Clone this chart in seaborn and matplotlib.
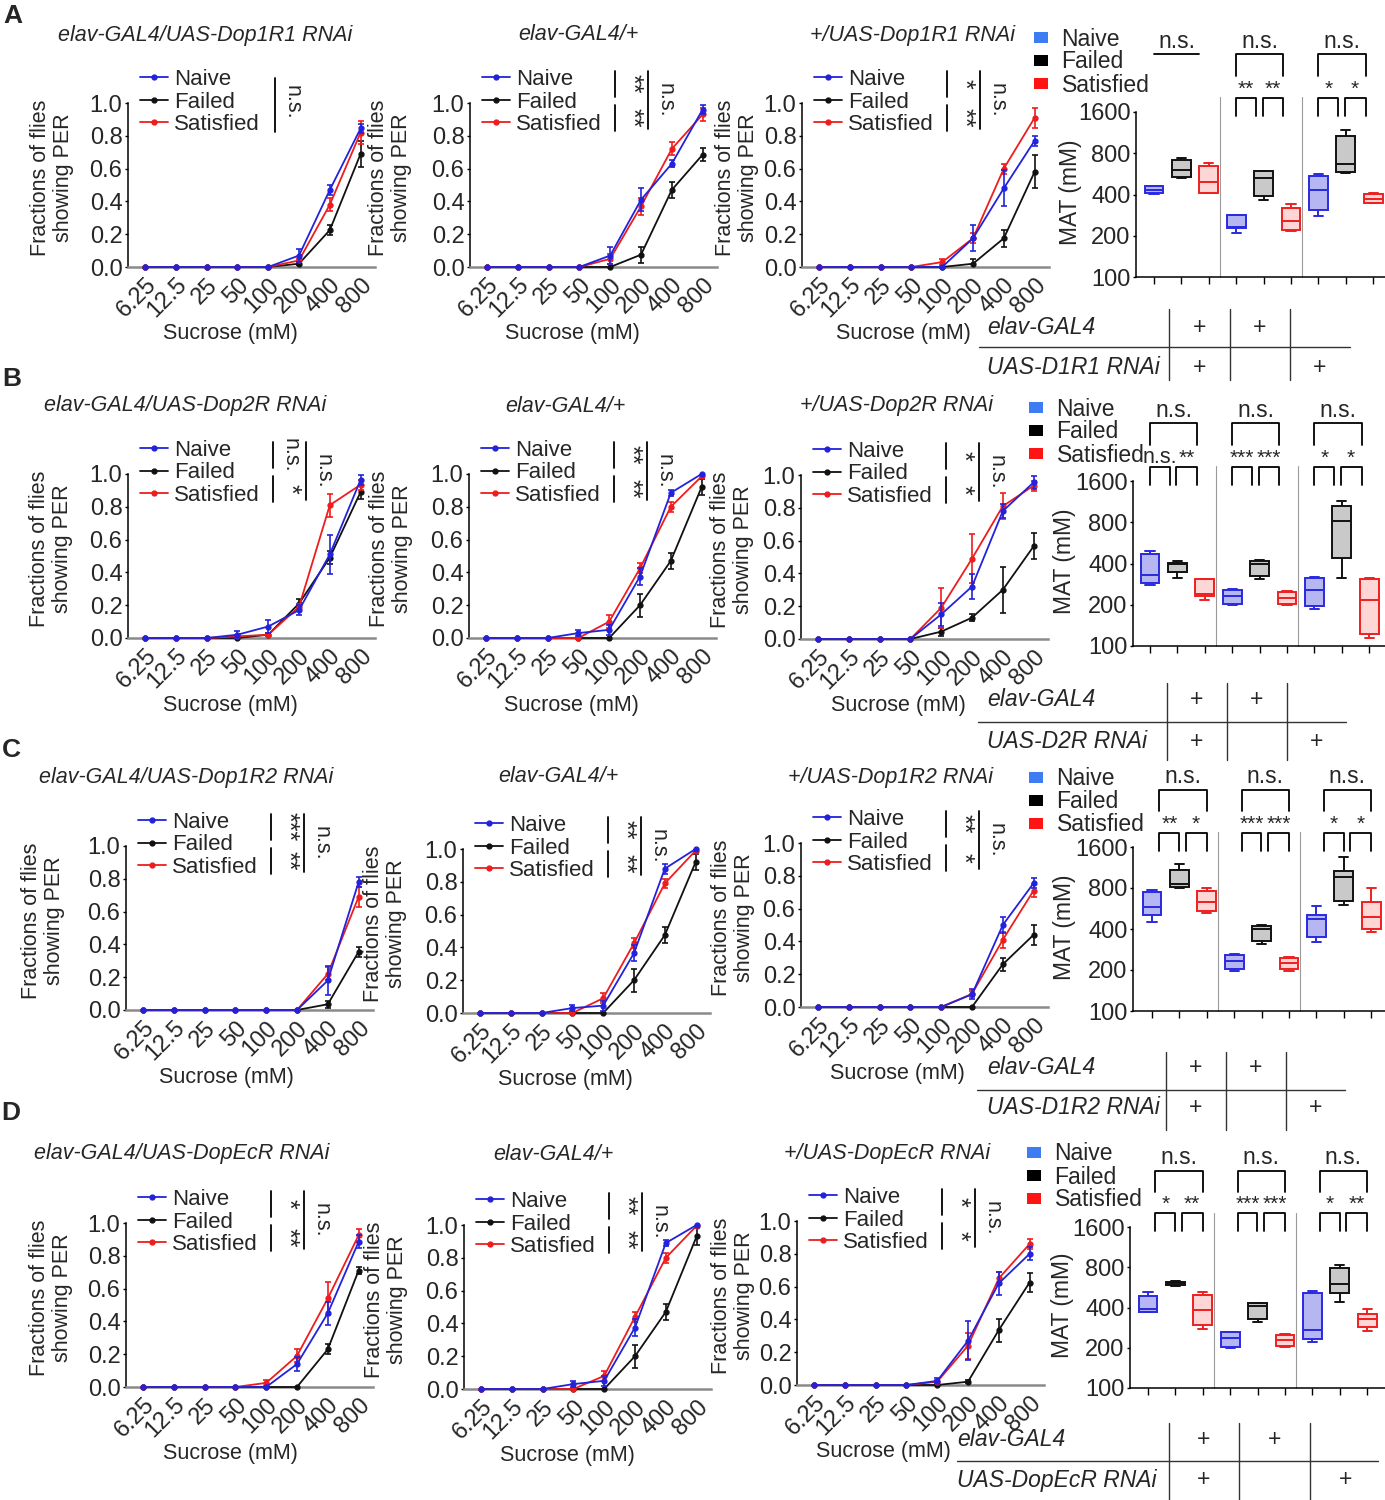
import numpy as np
import pandas as pd
import matplotlib
matplotlib.use('Agg')
import matplotlib.pyplot as plt
import seaborn as sns
from matplotlib.lines import Line2D
from matplotlib.patches import Patch
from matplotlib.ticker import NullLocator
from matplotlib.transforms import blended_transform_factory

# ---------------- data ----------------
conc = ['6.25', '12.5', '25', '50', '100', '200', '400', '800']
conditions = ['Naive', 'Failed', 'Satisfied']

# each row: [RNAi, elav-GAL4/+, +/UAS]
titles_A = ['elav-GAL4/UAS-Dop1R1 RNAi', 'elav-GAL4/+', '+/UAS-Dop1R1 RNAi']
titles_B = ['elav-GAL4/UAS-Dop2R RNAi', 'elav-GAL4/+', '+/UAS-Dop2R RNAi']
titles_C = ['elav-GAL4/UAS-Dop1R2 RNAi', 'elav-GAL4/+', '+/UAS-Dop1R2 RNAi']
titles_D = ['elav-GAL4/UAS-DopEcR RNAi', 'elav-GAL4/+', '+/UAS-DopEcR RNAi']
uas_labels = ['UAS-D1R1 RNAi', 'UAS-D2R RNAi', 'UAS-D1R2 RNAi', 'UAS-DopEcR RNAi']

naive_A = [[0, 0, 0, 0, 0, 0.07, 0.47, 0.845],
           [0, 0, 0, 0, 0.07, 0.41, 0.63, 0.96],
           [0, 0, 0, 0, 0, 0.175, 0.48, 0.77]]
naive_A_err = [[0, 0, 0, 0, 0, 0.04, 0.03, 0.03],
               [0, 0, 0, 0, 0.05, 0.07, 0.02, 0.03],
               [0, 0, 0, 0, 0, 0.08, 0.11, 0.03]]
failed_A = [[0, 0, 0, 0, 0, 0.02, 0.225, 0.69],
            [0, 0, 0, 0, 0, 0.075, 0.47, 0.685],
            [0, 0, 0, 0, 0, 0.02, 0.175, 0.58]]
failed_A_err = [[0, 0, 0, 0, 0, 0.01, 0.03, 0.08],
                [0, 0, 0, 0, 0, 0.05, 0.05, 0.04],
                [0, 0, 0, 0, 0, 0.03, 0.05, 0.1]]
sat_A = [[0, 0, 0, 0, 0, 0.04, 0.38, 0.82],
         [0, 0, 0, 0, 0.05, 0.37, 0.72, 0.93],
         [0, 0, 0, 0, 0.03, 0.175, 0.6, 0.91]]
sat_A_err = [[0, 0, 0, 0, 0, 0.01, 0.04, 0.07],
             [0, 0, 0, 0, 0.03, 0.05, 0.04, 0.04],
             [0, 0, 0, 0, 0.02, 0.03, 0.03, 0.06]]

naive_B = [[0, 0, 0, 0.02, 0.07, 0.17, 0.51, 0.965],
           [0, 0, 0, 0.03, 0.05, 0.375, 0.885, 1.0],
           [0, 0, 0, 0, 0.15, 0.32, 0.78, 0.955]]
naive_B_err = [[0, 0, 0, 0.02, 0.04, 0.03, 0.12, 0.03],
               [0, 0, 0, 0.02, 0.03, 0.05, 0.02, 0],
               [0, 0, 0, 0, 0.07, 0.075, 0.045, 0.04]]
failed_B = [[0, 0, 0, 0, 0.02, 0.21, 0.49, 0.89],
            [0, 0, 0, 0, 0, 0.2, 0.47, 0.92],
            [0, 0, 0, 0, 0.045, 0.13, 0.3, 0.565]]
failed_B_err = [[0, 0, 0, 0, 0.01, 0.03, 0.04, 0.04],
                [0, 0, 0, 0, 0, 0.07, 0.05, 0.05],
                [0, 0, 0, 0, 0.025, 0.02, 0.14, 0.08]]
sat_B = [[0, 0, 0, 0.01, 0.02, 0.19, 0.81, 0.935],
         [0, 0, 0, 0, 0.1, 0.425, 0.8, 0.985],
         [0, 0, 0, 0, 0.19, 0.49, 0.81, 0.935]]
sat_B_err = [[0, 0, 0, 0.01, 0.01, 0.02, 0.07, 0.03],
             [0, 0, 0, 0, 0.04, 0.03, 0.03, 0.01],
             [0, 0, 0, 0, 0.12, 0.15, 0.08, 0.03]]

naive_C = [[0, 0, 0, 0, 0, 0, 0.18, 0.78],
           [0, 0, 0, 0.03, 0.045, 0.365, 0.88, 1.0],
           [0, 0, 0, 0, 0, 0.077, 0.5, 0.755]]
naive_C_err = [[0, 0, 0, 0, 0, 0, 0.09, 0.03],
               [0, 0, 0, 0.02, 0.03, 0.05, 0.03, 0],
               [0, 0, 0, 0, 0, 0.03, 0.05, 0.03]]
failed_C = [[0, 0, 0, 0, 0, 0, 0.035, 0.355],
            [0, 0, 0, 0, 0, 0.2, 0.475, 0.92],
            [0, 0, 0, 0, 0, 0, 0.26, 0.44]]
failed_C_err = [[0, 0, 0, 0, 0, 0, 0.02, 0.03],
                [0, 0, 0, 0, 0, 0.07, 0.05, 0.05],
                [0, 0, 0, 0, 0, 0, 0.04, 0.06]]
sat_C = [[0, 0, 0, 0, 0, 0, 0.22, 0.69],
         [0, 0, 0, 0, 0.09, 0.425, 0.79, 0.99],
         [0, 0, 0, 0, 0, 0.08, 0.41, 0.71]]
sat_C_err = [[0, 0, 0, 0, 0, 0, 0.04, 0.06],
             [0, 0, 0, 0, 0.03, 0.03, 0.03, 0.01],
             [0, 0, 0, 0, 0, 0.02, 0.05, 0.04]]

naive_D = [[0, 0, 0, 0, 0, 0.14, 0.45, 0.885],
           [0, 0, 0, 0.03, 0.05, 0.375, 0.89, 1.0],
           [0, 0, 0, 0, 0.025, 0.27, 0.62, 0.8]]
naive_D_err = [[0, 0, 0, 0, 0, 0.04, 0.07, 0.04],
               [0, 0, 0, 0.02, 0.03, 0.05, 0.02, 0],
               [0, 0, 0, 0, 0.015, 0.12, 0.07, 0.04]]
failed_D = [[0, 0, 0, 0, 0, 0, 0.23, 0.71],
            [0, 0, 0, 0, 0, 0.2, 0.47, 0.93],
            [0, 0, 0, 0, 0, 0.02, 0.335, 0.625]]
failed_D_err = [[0, 0, 0, 0, 0, 0, 0.03, 0.02],
                [0, 0, 0, 0, 0, 0.07, 0.05, 0.05],
                [0, 0, 0, 0, 0, 0.01, 0.07, 0.06]]
sat_D = [[0, 0, 0, 0, 0.025, 0.19, 0.54, 0.925],
         [0, 0, 0, 0, 0.08, 0.44, 0.8, 0.995],
         [0, 0, 0, 0, 0.02, 0.24, 0.65, 0.86]]
sat_D_err = [[0, 0, 0, 0, 0.02, 0.04, 0.1, 0.04],
             [0, 0, 0, 0, 0.03, 0.03, 0.03, 0.01],
             [0, 0, 0, 0, 0.01, 0.08, 0.04, 0.03]]

# significance next to the line plot legends: (upper pair, lower pair, overall)
line_sig_A = [(None, None, 'n.s.'), ('**', '**', 'n.s.'), ('*', '**', 'n.s.')]
line_sig_B = [('n.s.', '*', 'n.s.'), ('**', '**', 'n.s.'), ('*', '*', 'n.s.')]
line_sig_C = [('***', '**', 'n.s.'), ('**', '**', 'n.s.'), ('**', '*', 'n.s.')]
line_sig_D = [('*', '**', 'n.s.'), ('**', '**', 'n.s.'), ('*', '*', 'n.s.')]

# MAT box plots, 9 boxes per row: (Naive, Failed, Satisfied) x (RNAi, elav/+, UAS/+)
box_lo_A = [405, 532, 410, 209, 363, 217, 279, 574, 345]
box_q1_A = [410, 537, 412, 228, 388, 219, 310, 584, 347]
box_med_A = [434, 607, 494, 232, 528, 255, 429, 671, 373]
box_q3_A = [459, 718, 642, 285, 594, 321, 543, 1063, 406]
box_hi_A = [464, 743, 679, 285, 594, 343, 568, 1176, 410]

box_lo_B = [277, 313, 218, 198, 308, 198, 185, 315, 115]
box_q1_B = [290, 347, 230, 204, 322, 204, 195, 441, 123]
box_med_B = [328, 397, 238, 230, 394, 225, 258, 817, 218]
box_q3_B = [472, 406, 307, 258, 417, 248, 313, 1045, 310]
box_hi_B = [496, 417, 307, 262, 421, 250, 319, 1137, 315]

box_lo_C = [447, 799, 523, 197, 311, 197, 322, 602, 379]
box_q1_C = [508, 812, 544, 203, 324, 204, 352, 637, 399]
box_med_C = [579, 860, 627, 233, 399, 227, 475, 963, 489]
box_q3_C = [746, 1090, 764, 258, 422, 247, 508, 1059, 627]
box_hi_C = [768, 1200, 799, 264, 425, 251, 592, 1343, 799]

box_lo_D = [368, 580, 278, 199, 310, 201, 221, 440, 267]
box_q1_D = [372, 588, 296, 204, 328, 207, 234, 516, 285]
box_med_D = [390, 605, 383, 238, 413, 229, 272, 598, 327]
box_q3_D = [490, 623, 496, 261, 430, 250, 510, 783, 358]
box_hi_D = [519, 630, 519, 264, 435, 254, 534, 829, 390]

box_pair_A = [(None, None), ('**', '**'), ('*', '*')]
box_pair_B = [('n.s.', '**'), ('***', '***'), ('*', '*')]
box_pair_C = [('**', '*'), ('***', '***'), ('*', '*')]
box_pair_D = [('*', '**'), ('***', '***'), ('*', '**')]

# ---------------- layout (pixels) ----------------
W, H = 1385, 1500
letters = ['A', 'B', 'C', 'D']
letter_xy = [(13, 16), (12, 379), (11, 750), (11, 1113)]
line_top = [[103, 103, 103], [474, 474, 475], [846, 849, 843], [1223, 1225, 1221]]
line_first = [[145, 487, 819], [145, 486, 818], [143, 480, 818], [143, 481, 814]]
title_x = [[205, 578, 912], [185, 565, 897], [186, 558, 891], [182, 553, 887]]
title_y = [35, 406, 777, 1154]
ylab_x = [[52, 390, 737], [51, 391, 732], [43, 385, 733], [51, 386, 733]]
xlab_dx = [[85, 85, 84], [85, 85, 80], [83, 85, 79], [87, 86, 69]]
STEP = 30.8
AX_H = 164

box_left = [1136, 1133, 1133, 1130]
box_top = [112, 481, 847, 1227]
box_bot = [277, 646, 1011, 1388]
box_p0 = [1154, 1150, 1152, 1148]
BSTEP = 27.4
brk_off = [0, 0, 0.27, 0.27]
mat_lab_x = [1070, 1064, 1065, 1063]
box_leg_xy = [(1034, 62), (1029, 432), (1029, 802), (1027, 1177)]

tab_y1 = [327, 700, 1068, 1440]
tab_y2 = [367, 741, 1108, 1480]
tab_hy = [347, 722, 1090, 1461]
tab_vx = [[1169, 1230, 1290], [1167, 1227, 1287], [1166, 1226, 1286], [1169, 1239, 1310]]
tab_vy = [(309, 380), (683, 760), (1052, 1130), (1423, 1500)]
tab_hx = [(979, 1350), (978, 1346), (977, 1345), (957, 1378)]
tab_tx = [987, 987, 987, 957]

C_LINE = {'Naive': '#2222dd', 'Failed': '#111111', 'Satisfied': '#ee1c1c'}
C_FILL = {'Naive': '#b6b6f2', 'Failed': '#c9c9c9', 'Satisfied': '#ffd6d6'}
C_EDGE = {'Naive': '#2a2ae0', 'Failed': '#111111', 'Satisfied': '#ee2020'}
C_LEG = {'Naive': '#3d7cf2', 'Failed': '#000000', 'Satisfied': '#ff1414'}
FS = 15.5
TFS = 17
SFS = 18

sns.set_theme(style='ticks')
plt.rcParams['font.family'] = ['Liberation Sans', 'DejaVu Sans']

fig = plt.figure(figsize=(W / 100, H / 100), dpi=100)
fig.patch.set_facecolor('white')


def fx(x):
    return x / W


def fy(y):
    return 1 - y / H


def px_axes(x0, y0, x1, y1):
    return fig.add_axes([fx(x0), fy(y1), (x1 - x0) / W, (y1 - y0) / H])


def ptext(x, y, s, **kw):
    fig.text(fx(x), fy(y), s, **kw)


def pline(xs, ys, **kw):
    fig.add_artist(Line2D([fx(v) for v in xs], [fy(v) for v in ys],
                          transform=fig.transFigure, **kw))


rows = [
    (titles_A, naive_A, naive_A_err, failed_A, failed_A_err, sat_A, sat_A_err, line_sig_A),
    (titles_B, naive_B, naive_B_err, failed_B, failed_B_err, sat_B, sat_B_err, line_sig_B),
    (titles_C, naive_C, naive_C_err, failed_C, failed_C_err, sat_C, sat_C_err, line_sig_C),
    (titles_D, naive_D, naive_D_err, failed_D, failed_D_err, sat_D, sat_D_err, line_sig_D),
]
box_rows = [
    (box_lo_A, box_q1_A, box_med_A, box_q3_A, box_hi_A, box_pair_A),
    (box_lo_B, box_q1_B, box_med_B, box_q3_B, box_hi_B, box_pair_B),
    (box_lo_C, box_q1_C, box_med_C, box_q3_C, box_hi_C, box_pair_C),
    (box_lo_D, box_q1_D, box_med_D, box_q3_D, box_hi_D, box_pair_D),
]

xpos = np.arange(len(conc))

for r in range(4):
    titles, nv, nve, fl, fle, st, ste, lsig = rows[r]
    ptext(*letter_xy[r], letters[r], fontsize=19, fontweight='bold', ha='center', va='center')

    # ---- line plots ----
    for c in range(3):
        first = line_first[r][c]
        top = line_top[r][c]
        left = first - 17
        ax = px_axes(left, top, first + 7 * STEP + 14, top + AX_H)
        ax.set_facecolor('none')
        series = {'Naive': (nv[c], nve[c]), 'Failed': (fl[c], fle[c]),
                  'Satisfied': (st[c], ste[c])}
        for cond in ['Failed', 'Satisfied', 'Naive']:
            m = np.array(series[cond][0], dtype=float)
            e = np.array(series[cond][1], dtype=float)
            col = C_LINE[cond]
            ax.plot(xpos, m, color=col, lw=1.3, marker='o', ms=3.5,
                    clip_on=False, zorder=3)
            k = e > 0
            ax.errorbar(xpos[k], m[k], yerr=e[k], fmt='none', ecolor=col,
                        elinewidth=1.2, capsize=2.5, capthick=1.2, zorder=3)
        ax.set_xlim(-17 / STEP, 7 + 14 / STEP)
        ax.set_ylim(0, 1)
        ax.set_xticks(xpos)
        ax.set_xticklabels(conc, rotation=45, ha='right', va='top',
                           rotation_mode='anchor', fontsize=TFS)
        ax.set_yticks([0, 0.2, 0.4, 0.6, 0.8, 1.0])
        ax.set_yticklabels(['0.0', '0.2', '0.4', '0.6', '0.8', '1.0'], fontsize=TFS)
        ax.tick_params(axis='x', length=0, pad=5)
        ax.tick_params(axis='y', length=2, width=1, pad=2, color='black')
        sns.despine(ax=ax)
        ax.spines['bottom'].set_color('#8a8a8a')
        ax.spines['bottom'].set_linewidth(1.8)
        ax.spines['left'].set_color('black')
        ax.spines['left'].set_linewidth(1.1)

        handles = [Line2D([], [], color=C_LINE[k2], marker='o', ms=3.5, lw=1.3)
                   for k2 in conditions]
        ax.legend(handles, conditions, loc='center left',
                  bbox_to_anchor=(fx(left + 12), fy(top - 1)),
                  bbox_transform=fig.transFigure, frameon=False, fontsize=FS + 0.5,
                  handlelength=1.25, handletextpad=0.3, labelspacing=0.07,
                  borderpad=0, borderaxespad=0)

        ptext(title_x[r][c], title_y[r], titles[c], fontsize=FS, style='italic',
              ha='center', va='center')
        ptext(ylab_x[r][c], top + 75, 'Fractions of flies\nshowing PER', fontsize=FS,
              rotation=90, ha='center', va='center', linespacing=1.15)
        ptext(first + xlab_dx[r][c], top + 231, 'Sucrose (mM)', fontsize=FS,
              ha='center', va='center')

        up, low, overall = lsig[c]
        if up is None:
            pline([left + 147, left + 147], [top - 25, top + 29], color='black', lw=1.3)
            ptext(left + 164, top - 1, overall, fontsize=FS, rotation=-90,
                  ha='center', va='center')
        else:
            pline([left + 145, left + 145], [top - 32, top - 6], color='black', lw=1.3)
            pline([left + 145, left + 145], [top + 2, top + 28], color='black', lw=1.3)
            for lab, yy in ((up, top - 19), (low, top + 15)):
                fs = FS if lab == 'n.s.' else SFS
                ptext(left + 162, yy, lab, fontsize=fs, rotation=-90, ha='center', va='center')
            pline([left + 178, left + 178], [top - 32, top + 26], color='black', lw=1.3)
            ptext(left + 195, top - 3, overall, fontsize=FS, rotation=-90,
                  ha='center', va='center')

    # ---- MAT box plot ----
    lo, q1, med, q3, hi, pairs = box_rows[r]
    recs = []
    for i in range(9):
        for v in (lo[i], q1[i], med[i], q3[i], hi[i]):
            recs.append({'pos': i, 'cond': conditions[i % 3], 'mat': v})
    df = pd.DataFrame(recs)

    bax = px_axes(box_left[r], box_top[r], W, box_bot[r])
    bax.set_facecolor('none')
    for cond in conditions:
        sns.boxplot(data=df[df['cond'] == cond], x='pos', y='mat', order=list(range(9)),
                    color=C_FILL[cond], linecolor=C_EDGE[cond], saturation=1,
                    width=0.68, whis=(0, 100), linewidth=1.4, ax=bax,
                    log_scale=(False, 2))
    p0 = box_p0[r]
    bax.set_xlim((box_left[r] - p0) / BSTEP, (W - p0) / BSTEP)
    bax.set_ylim(100, 1600)
    bax.set_yticks([100, 200, 400, 800, 1600])
    bax.set_yticklabels(['100', '200', '400', '800', '1600'], fontsize=TFS)
    bax.yaxis.set_minor_locator(NullLocator())
    bax.set_xticks(range(9))
    bax.set_xticklabels([])
    bax.set_xlabel('')
    bax.set_ylabel('')
    bax.tick_params(axis='x', length=5, width=1, color='black')
    bax.tick_params(axis='y', length=2, width=1, pad=2, color='black')
    sns.despine(ax=bax)
    for sp in ('left', 'bottom'):
        bax.spines[sp].set_color('black')
        bax.spines[sp].set_linewidth(1.1)
    ptext(mat_lab_x[r], (box_top[r] + box_bot[r]) / 2 - 2, 'MAT (mM)', fontsize=FS + 1,
          rotation=90, ha='center', va='center')

    tr = blended_transform_factory(bax.transData, bax.transAxes)
    for sx in (2.4, 5.4):
        bax.plot([sx, sx], [0, 1.09], transform=tr, color='#9a9a9a', lw=0.8, clip_on=False)

    for g in range(3):
        a = 3 * g + brk_off[r]
        if r == 0 and g == 0:
            bax.plot([a, a + 1.65], [1.35, 1.35], transform=tr, color='black', lw=1.3,
                     clip_on=False)
            bax.text(a + 0.82, 1.43, 'n.s.', transform=tr, fontsize=FS + 1,
                     ha='center', va='center')
            continue
        bax.plot([a, a, a + 1.72, a + 1.72], [1.22, 1.35, 1.35, 1.22], transform=tr,
                 color='black', lw=1.3, clip_on=False)
        bax.text(a + 0.86, 1.43, 'n.s.', transform=tr, fontsize=FS + 1, ha='center', va='center')
        for (s0, s1), lab in zip([(0, 0.72), (0.96, 1.72)], pairs[g]):
            bax.plot([a + s0, a + s0, a + s1, a + s1], [0.975, 1.085, 1.085, 0.975],
                     transform=tr, color='black', lw=1.3, clip_on=False)
            fs = FS if lab == 'n.s.' else 15
            bax.text(a + (s0 + s1) / 2, 1.14, lab, transform=tr, fontsize=fs,
                     ha='center', va='center')

    leg_handles = [Patch(facecolor=C_LEG[k2], edgecolor='none') for k2 in conditions]
    bax.legend(leg_handles, conditions, loc='center left',
               bbox_to_anchor=(fx(box_leg_xy[r][0]), fy(box_leg_xy[r][1])),
               bbox_transform=fig.transFigure, frameon=False, fontsize=FS + 1,
               handlelength=0.6, handleheight=0.35, handletextpad=0.6,
               labelspacing=0.0, borderpad=0, borderaxespad=0)

    # ---- genotype table ----
    for vx in tab_vx[r]:
        pline([vx, vx], list(tab_vy[r]), color='#333333', lw=1.0)
    pline(list(tab_hx[r]), [tab_hy[r], tab_hy[r]], color='#333333', lw=1.0)
    ptext(tab_tx[r], tab_y1[r], 'elav-GAL4', fontsize=FS + 1, style='italic', ha='left', va='center')
    ptext(tab_tx[r], tab_y2[r], uas_labels[r], fontsize=FS + 1, style='italic', ha='left', va='center')
    v0, v1, v2 = tab_vx[r]
    cx = [(v0 + v1) / 2, (v1 + v2) / 2, v2 + (v2 - v1) / 2]
    for x in (cx[0], cx[1]):
        ptext(x, tab_y1[r], '+', fontsize=FS + 1, ha='center', va='center')
    for x in (cx[0], cx[2]):
        ptext(x, tab_y2[r], '+', fontsize=FS + 1, ha='center', va='center')

fig.savefig('out.png', dpi=100, facecolor='white')
